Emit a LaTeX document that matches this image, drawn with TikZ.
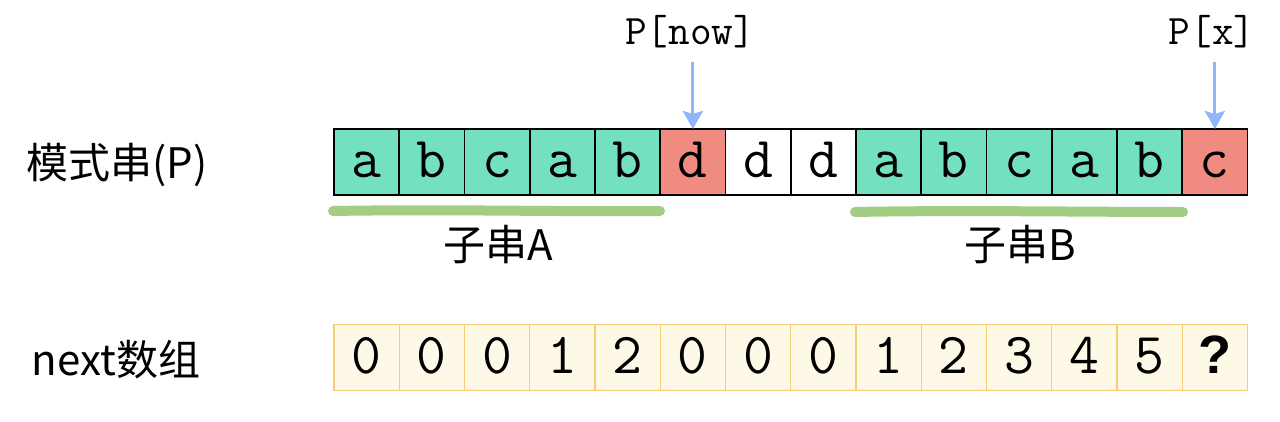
\documentclass[tikz,border=0pt]{standalone}
\usepackage{fontspec}
\newfontfamily\cjk{Noto Sans CJK SC}
\newfontfamily\lsans{Liberation Sans}
\usetikzlibrary{arrows.meta}
\definecolor{cellgreen}{HTML}{73E0C0}
\definecolor{cellred}{HTML}{F08B81}
\definecolor{nextfill}{HTML}{FEF8E6}
\definecolor{nextdraw}{HTML}{F5CC78}
\definecolor{ulgreen}{HTML}{A3CD82}
\definecolor{arrblue}{HTML}{90B5F8}
\begin{document}
\begin{tikzpicture}[x=0.5pt,y=-0.5pt,
  cellbase/.style={minimum width=32.62pt, minimum height=33pt, inner sep=0pt, outer sep=0pt,
    text height=16pt, text depth=0pt, anchor=center,
    font=\ttfamily\fontsize{29}{29}\selectfont},
  pcell/.style={cellbase, draw=black, line width=0.8pt, fill=#1},
  ncell/.style={cellbase, draw=nextdraw, line width=0.6pt, fill=nextfill},
  ptr/.style={font=\ttfamily\fontsize{21}{21}\selectfont, anchor=base, inner sep=0pt},
  side/.style={font=\cjk\fontsize{21}{21}\selectfont, anchor=center, inner sep=0pt},
  sub/.style={font=\cjk\fontsize{21}{21}\selectfont, anchor=center, inner sep=0pt},
  arr/.style={draw=arrblue, line width=1.5pt, -{Stealth[length=9pt,width=10pt,inset=1.5pt]}},
  under/.style={draw=ulgreen, line width=5pt, line cap=round}]
\fill[white] (0,0) rectangle (1280,422);
\useasboundingbox (0,0) rectangle (1280,422);
% pattern string
\foreach \ch/\col [count=\i] in {a/cellgreen,b/cellgreen,c/cellgreen,a/cellgreen,b/cellgreen,d/cellred,d/white,d/white,a/cellgreen,b/cellgreen,c/cellgreen,a/cellgreen,b/cellgreen,c/cellred}
  \node[pcell=\col] (p\i) at ({334+(\i-0.5)*65.25},162) {\ch};
% next array
\foreach \v [count=\i] in {0,0,0,1,2,0,0,0,1,2,3,4,5}
  \node[ncell] (n\i) at ({334+(\i-0.5)*65.25},357.5) {\v};
\node[ncell, font=\lsans\bfseries\fontsize{27}{27}\selectfont] (n14) at ({334+13.5*65.25},357.5) {?};
% side labels
\node[side] (lp) at (117,165) {模式串(P)};
\node[side] (ln) at (116,360) {next数组};
% pointers
\node[ptr] (lnow) at (690,45) {P[now]};
\node[ptr] (lx) at (1212,45) {P[x]};
\draw[arr] ([yshift=-6.5pt]lnow.south -| p6.north) -- (p6.north);
\draw[arr] ([yshift=-6.5pt]lx.south -| p14.north) -- (p14.north);
% underlines
\draw[under] (333,211) .. controls (450,209) and (560,212) .. (660,211);
\draw[under] (855,212) .. controls (960,210) and (1080,212) .. (1183,212);
\node[sub] (sa) at (498,245) {子串A};
\node[sub] (sb) at (1020,245) {子串B};
\end{tikzpicture}
\end{document}
